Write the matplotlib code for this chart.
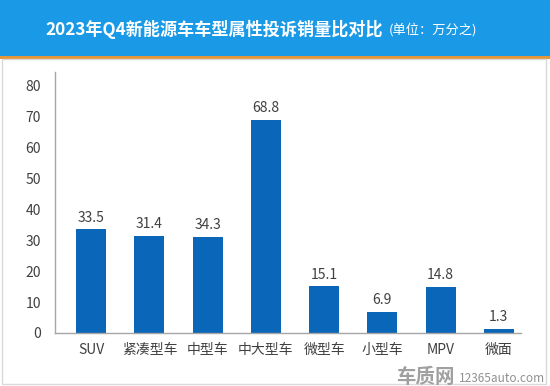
import matplotlib.pyplot as plt
from matplotlib.patches import Rectangle

plt.rcParams['font.family'] = ['Noto Sans CJK SC', 'DejaVu Sans']

# 数据
categories = ["SUV", "紧凑型车", "中型车", "中大型车", "微型车", "小型车", "MPV", "微面"]
bar_heights = [33.5, 31.4, 31.0, 68.8, 15.1, 6.9, 14.8, 1.3]   # 图上柱子实际高度
value_labels = ["33.5", "31.4", "34.3", "68.8", "15.1", "6.9", "14.8", "1.3"]
yticks = [0, 10, 20, 30, 40, 50, 60, 70, 80]

fig = plt.figure(figsize=(5.5, 3.86), dpi=100)
fig.patch.set_facecolor("white")

# 顶部蓝色标题栏 + 橙色分隔线
fig.patches.append(Rectangle((0, 1 - 56/386), 1, 56/386, transform=fig.transFigure,
                             facecolor="#1a9ae6", edgecolor="none", zorder=0))
fig.patches.append(Rectangle((0, 1 - 59/386), 1, 3/386, transform=fig.transFigure,
                             facecolor="#e3973a", edgecolor="none", zorder=0))
# 外框
fig.patches.append(Rectangle((0.004, 0.006), 0.989, 1 - 59/386 - 0.006, transform=fig.transFigure,
                             facecolor="none", edgecolor="#d9d9d9", lw=1, zorder=0))

fig.text(45/550, 1 - 29/386, "2023年Q4新能源车车型属性投诉销量比对比", color="white",
         fontsize=12.3, fontweight="bold", ha="left", va="center")
fig.text(389/550, 1 - 30/386, "(单位：万分之)", color="white", fontsize=9.5,
         ha="left", va="center")

ax = fig.add_axes([55/550, 1 - 333/386, (521 - 55)/550, (333 - 72)/386])
x = range(len(categories))
bars = ax.bar(x, bar_heights, width=0.515, color="#0a66b8", zorder=2)
for b, lab in zip(bars, value_labels):
    ax.text(b.get_x() + b.get_width()/2, b.get_height() + 1.5, lab, ha="center",
            va="bottom", fontsize=10, color="#404040")

ax.set_xlim(-0.62, 7.38)
ax.set_ylim(0, 84.2)
ax.set_yticks(yticks)
ax.set_xticks(list(x))
ax.set_xticklabels(categories)
ax.tick_params(axis="both", length=0, labelsize=10, labelcolor="#404040")
ax.tick_params(axis="x", pad=7)
ax.tick_params(axis="y", pad=10)
for s in ["top", "right"]:
    ax.spines[s].set_visible(False)
for s in ["left", "bottom"]:
    ax.spines[s].set_color("#a6a6a6")
    ax.spines[s].set_linewidth(1)

# 水印
fig.text(455/550, 1 - 377/386, "车质网", color="#a0a0a0", fontsize=14, fontweight="bold",
         ha="right", va="center")
fig.text(459/550, 1 - 378/386, "12365auto.com", color="#909090", fontsize=8.5,
         ha="left", va="center")

fig.savefig("out.png", dpi=100, facecolor="white")
